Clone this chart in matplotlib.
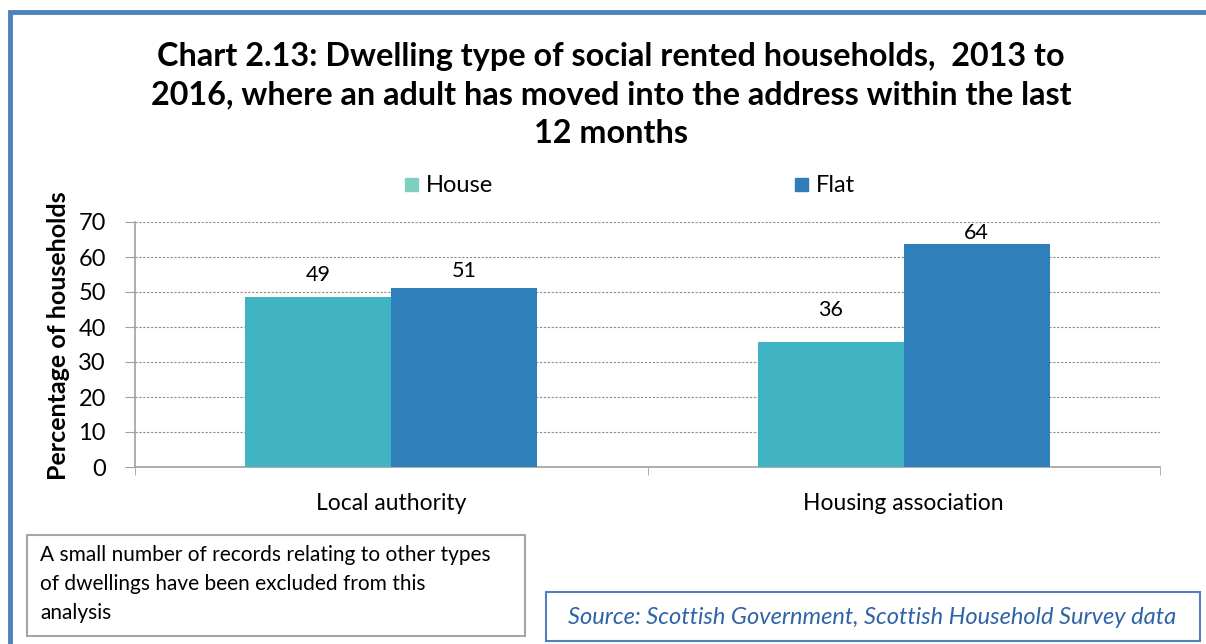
import matplotlib
matplotlib.use("Agg")
import matplotlib.pyplot as plt
from matplotlib.patches import Rectangle
import numpy as np

plt.rcParams['font.family'] = ['Lato', 'DejaVu Sans']

categories = ["Local authority", "Housing association"]
series_names = ["House", "Flat"]
house = [48.6, 35.7]
flat = [51.2, 63.8]
y_ticks = [0, 10, 20, 30, 40, 50, 60, 70]

bar_colors = ["#41b4c4", "#2e7fba"]
legend_colors = ["#7fcebf", "#2e7dba"]

W, H = 1206, 644
fig = plt.figure(figsize=(W / 100, H / 100), dpi=100)

def fx(px):
    return px / W

def fy(py):
    return 1 - py / H

# Outer frame (extends past the right and bottom edges)
fig.add_artist(Rectangle((fx(10), fy(700)), fx(1250), fy(12) - fy(700),
                         transform=fig.transFigure, fill=False,
                         edgecolor="#4f81bd", linewidth=3.5, clip_on=False))

# Title
fig.text(fx(611), fy(95),
         "Chart 2.13: Dwelling type of social rented households,  2013 to\n"
         "2016, where an adult has moved into the address within the last\n"
         "12 months",
         ha="center", va="center", fontsize=23.3, fontweight="bold",
         linespacing=1.4, color="#000000")

ax = fig.add_axes([fx(135), fy(467), fx(1160) - fx(135), fy(222) - fy(467)])
x = np.arange(len(categories))
bw = 0.285
bars_h = ax.bar(x - bw / 2, house, width=bw, color=bar_colors[0], zorder=3)
bars_f = ax.bar(x + bw / 2, flat, width=bw, color=bar_colors[1], zorder=3)

# value labels, each lifted by its own offset (points) above the bar top
label_lift = {"house": [16, 23], "flat": [12, 8]}
for bars, vals, key in ((bars_h, house, "house"), (bars_f, flat, "flat")):
    for b, v, lift in zip(bars, vals, label_lift[key]):
        ax.annotate(f"{v:.0f}", (b.get_x() + b.get_width() / 2, v),
                    xytext=(0, lift), textcoords="offset points",
                    ha="center", va="center", fontsize=15.5, color="#000000")

ax.set_xlim(-0.5, 1.5)
ax.set_ylim(0, 70)
ax.set_yticks(y_ticks)
ax.set_yticklabels([str(t) for t in y_ticks], fontsize=17)
ax.yaxis.grid(True, linestyle=(0, (2, 1.5)), color="#8c8c8c", linewidth=0.8, zorder=0)
ax.set_axisbelow(True)

ax.set_xticks(x)
ax.set_xticklabels(categories, fontsize=16.5)
ax.tick_params(axis="x", length=0, pad=19)
ax.set_xticks([-0.5, 0.5, 1.5], minor=True)
ax.tick_params(axis="x", which="minor", length=6, direction="out", color="#a0a0a0")
ax.tick_params(axis="y", length=7, direction="out", color="#a0a0a0", pad=14)

for side in ("top", "right"):
    ax.spines[side].set_visible(False)
for side in ("left", "bottom"):
    ax.spines[side].set_color("#a0a0a0")
    ax.spines[side].set_linewidth(1.2)

fig.text(fx(58), fy(336), "Percentage of households", rotation=90,
         ha="center", va="center", fontsize=18, fontweight="bold")

# Legend
for name, col, sx in zip(series_names, legend_colors, (405, 795)):
    fig.add_artist(Rectangle((fx(sx), fy(191)), fx(13), fy(178) - fy(191),
                             transform=fig.transFigure, color=col))
    fig.text(fx(sx + 21), fy(185), name, ha="left", va="center", fontsize=17)

# Note box
fig.add_artist(Rectangle((fx(27), fy(636)), fx(498), fy(535) - fy(636),
                         transform=fig.transFigure, fill=False,
                         edgecolor="#a6a6a6", linewidth=1.5))
fig.text(fx(40), fy(584),
         "A small number of records relating to other types\n"
         "of dwellings have been excluded from this\n"
         "analysis",
         ha="left", va="center", fontsize=15, linespacing=1.55)

# Source box
fig.add_artist(Rectangle((fx(546), fy(641)), fx(654), fy(592) - fy(641),
                         transform=fig.transFigure, fill=False,
                         edgecolor="#4f81bd", linewidth=1.5))
fig.text(fx(872), fy(617), "Source: Scottish Government, Scottish Household Survey data",
         ha="center", va="center", fontsize=17, style="italic", color="#2f63a8")

fig.savefig("out.png", dpi=100)
